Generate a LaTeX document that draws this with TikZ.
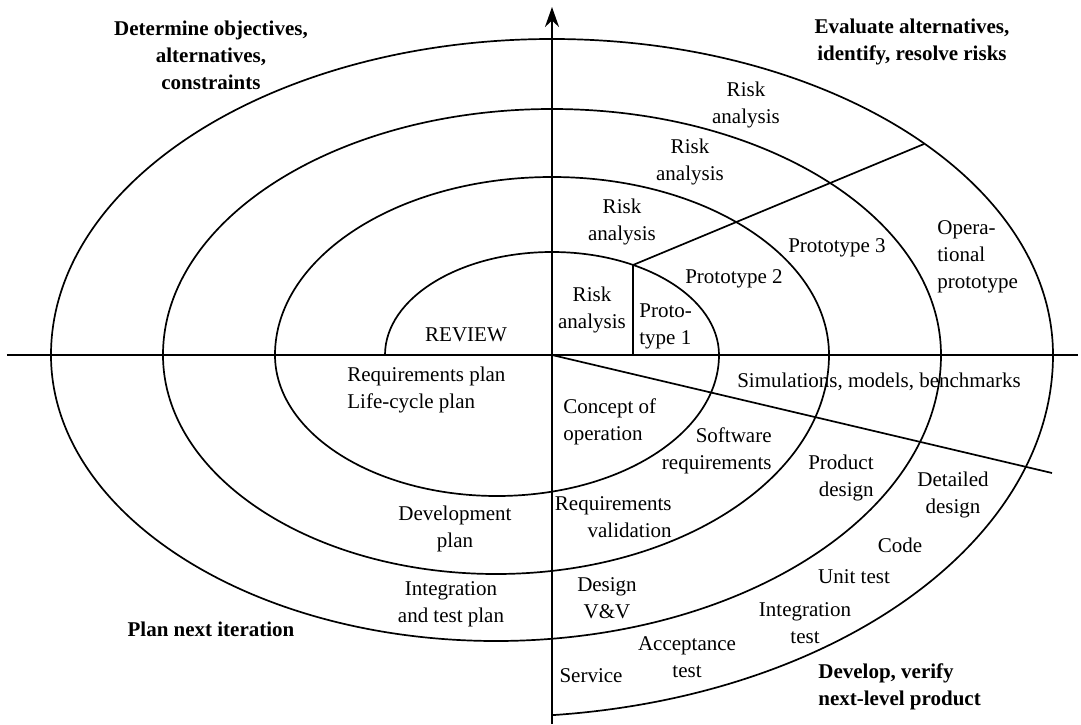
\documentclass[tikz,border=0pt]{standalone}
\usepackage{fontspec}
\setmainfont{Liberation Serif}
\usetikzlibrary{arrows.meta}

\begin{document}
\begin{tikzpicture}[x=0.5pt, y=0.5pt,
  lbl/.style={inner sep=0pt, align=center, font=\fontsize{10.5}{13.5}\selectfont},
  quad/.style={lbl, font=\fontsize{10.5}{13.5}\selectfont\bfseries},
  curve/.style={line width=0.85pt},
  axis/.style={line width=1.2pt}]
  \useasboundingbox (-552,-369) rectangle (529,355);

  \coordinate (origin) at (0,0);
  \coordinate (west) at (-545,0);
  \coordinate (east) at (526,0);
  \coordinate (south) at (0,-369);
  \coordinate (north) at (0,348);
  \coordinate (start) at (-167,0);
  \coordinate (pbase) at (81,0);
  \coordinate (pknee) at (81,90);
  \coordinate (pend) at (372,211);
  \coordinate (simend) at (500,-118);

  \draw[axis] (west) -- (east);
  \draw[axis, -{Stealth[length=10pt, width=7pt]}] (south) -- (north);

  \draw[curve] (start)
    arc[start angle=180, end angle=0, x radius=167, y radius=103]
    arc[start angle=0, end angle=-180, x radius=222, y radius=141]
    arc[start angle=180, end angle=0, x radius=277, y radius=178]
    arc[start angle=0, end angle=-180, x radius=333, y radius=219]
    arc[start angle=180, end angle=0, x radius=389, y radius=246]
    arc[start angle=0, end angle=-180, x radius=445, y radius=286]
    arc[start angle=180, end angle=0, x radius=501, y radius=316]
    arc[start angle=0, end angle=-84.23, x radius=557, y radius=362];

  \draw[curve] (pbase) -- (pknee) -- (pend);
  \draw[curve] (origin) -- (simend);

  \node[quad] (objectives) at (-341,300) {Determine objectives,\\alternatives,\\constraints};
  \node[quad] (evaluate) at (360,313.5) {Evaluate alternatives,\\identify, resolve risks};
  \node[quad] (plannext) at (-341,-274) {Plan next iteration};
  \node[quad, anchor=west, align=left] (develop) at (266,-332) {Develop, verify\\next-level product};

  \node[lbl] (review) at (-86,20) {REVIEW};
  \node[lbl] (riskone) at (40,45.5) {Risk\\analysis};
  \node[lbl, anchor=west, align=left] (protoone) at (87,29) {Proto-\\type 1};
  \node[lbl] (risktwo) at (70,133.5) {Risk\\analysis};
  \node[lbl] (riskthree) at (138,193) {Risk\\analysis};
  \node[lbl] (riskfour) at (194,250) {Risk\\analysis};
  \node[lbl] (prototwo) at (182,76) {Prototype 2};
  \node[lbl] (protothree) at (285,107) {Prototype 3};
  \node[lbl, anchor=west, align=left] (opproto) at (385,98) {Opera-\\tional\\prototype};
  \node[lbl] (simulations) at (327,-27) {Simulations, models, benchmarks};

  \node[lbl, anchor=west, align=left] (reqplan) at (-205,-34.5) {Requirements plan\\Life-cycle plan};
  \node[lbl, anchor=west, align=left] (concept) at (11,-67) {Concept of\\operation};
  \node[lbl, anchor=east, align=right] (swreq) at (220,-95.5) {Software\\requirements};
  \node[lbl, anchor=east, align=right] (reqval) at (120,-162.5) {Requirements\\validation};
  \node[lbl] (devplan) at (-97,-174) {Development\\plan};
  \node[lbl] (itplan) at (-101,-249.5) {Integration\\and test plan};
  \node[lbl] (designvv) at (55,-243.5) {Design\\V\&V};
  \node[lbl] (accept) at (135,-302) {Acceptance\\test};
  \node[lbl] (service) at (39,-321) {Service};
  \node[lbl, anchor=east, align=right] (proddesign) at (322,-123) {Product\\design};
  \node[lbl] (detdesign) at (401,-140) {Detailed\\design};
  \node[lbl] (code) at (348,-190) {Code};
  \node[lbl] (unittest) at (302,-222) {Unit test};
  \node[lbl] (inttest) at (253,-268) {Integration\\test};
\end{tikzpicture}
\end{document}
